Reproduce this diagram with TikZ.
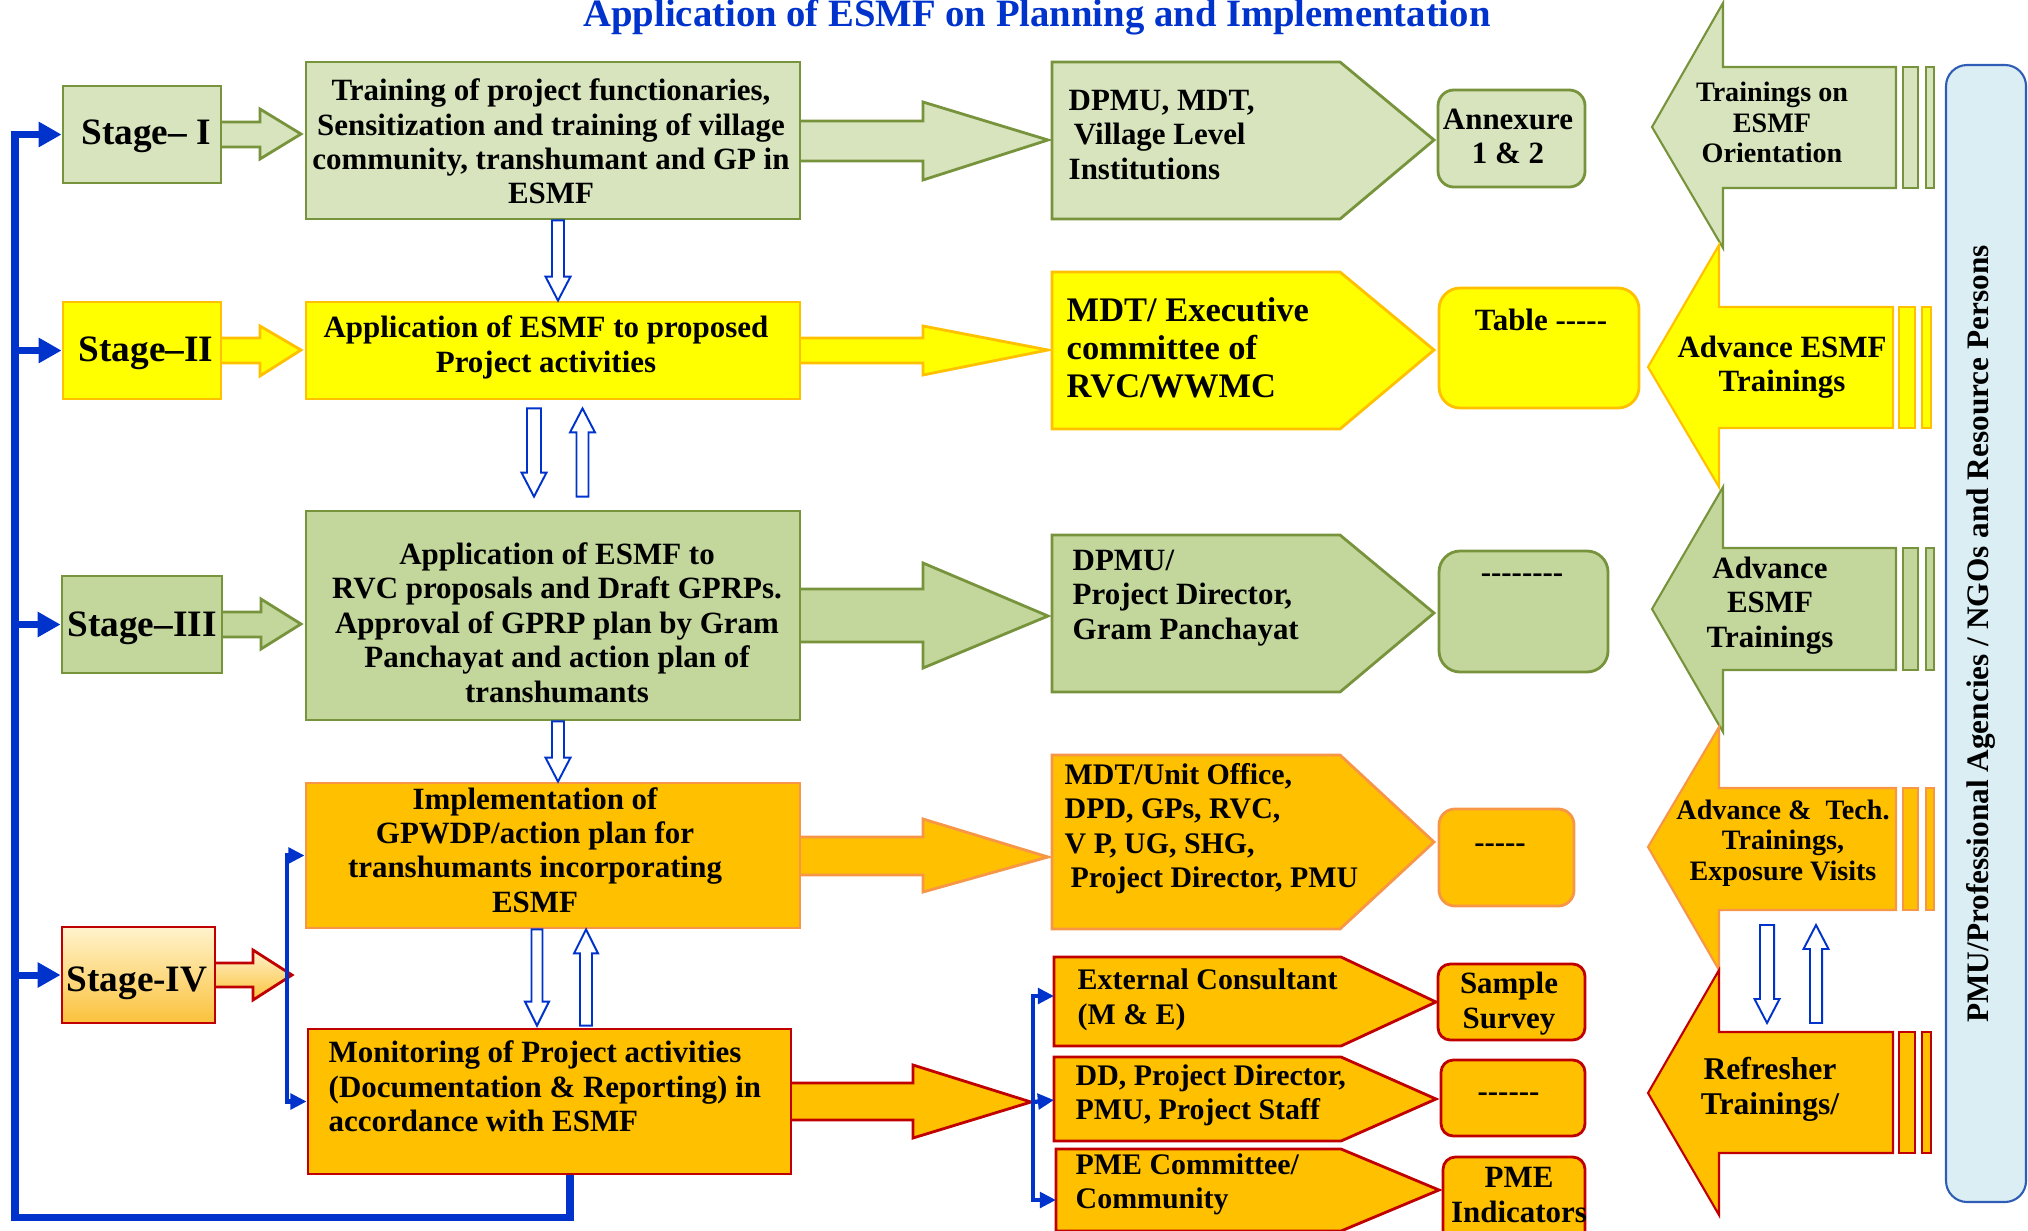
\documentclass[tikz,border=0pt]{standalone}
\usepackage{fontspec}
\setmainfont{Liberation Serif}
\usetikzlibrary{arrows.meta,calc,fit}

\definecolor{gLight}{HTML}{D7E4BD}
\definecolor{gMid}{HTML}{C3D69B}
\definecolor{gLine}{HTML}{77933C}
\definecolor{yFill}{HTML}{FFFF00}
\definecolor{yLine}{HTML}{FFC000}
\definecolor{oFill}{HTML}{FFC000}
\definecolor{oLine}{HTML}{F79646}
\definecolor{rLine}{HTML}{C00000}
\definecolor{flow}{HTML}{0033CC}
\definecolor{sideFill}{HTML}{DAEEF3}
\definecolor{sideLine}{HTML}{2F5DB5}
\definecolor{creamTop}{HTML}{FFF3CC}
\definecolor{goldBot}{HTML}{FBC23C}

% a run of separate hyphens (no dash ligatures)
\newcommand\hy[1]{\foreach \i in {1,...,#1}{-\kern0pt}}

% hollow vertical block arrow between two points: #1 from, #2 to, #3 half shaft, #4 half head (px)
\newcommand\hollowv[4]{%
  \draw[hollow] let \p1=#1, \p2=#2,
     \n1={ifthenelse(\y2>\y1,1,-1)},
     \n2={#3*0.2845pt}, \n3={#4*0.2845pt}, \n4={24*0.2845pt*\n1} in
   ({\x1-\n2},\y1) -- ({\x1-\n2},{\y2-\n4}) -- ({\x1-\n3},{\y2-\n4}) --
   (\x1,\y2) -- ({\x1+\n3},{\y2-\n4}) -- ({\x1+\n2},{\y2-\n4}) --
   ({\x1+\n2},\y1) -- cycle;}

\begin{document}
\begin{tikzpicture}[x=0.01cm, y=-0.01cm, line join=miter,
  boxline/.style={line width=0.8pt},
  hollow/.style={draw=flow, fill=white, line width=0.55pt},
  fb/.style={draw=flow, line width=2pt},
  fbarrow/.style={fb, -{Triangle[length=6.5pt,width=6.8pt]}},
  brk/.style={draw=flow, line width=1.2pt},
  brkarrow/.style={brk, -{Triangle[length=4.6pt,width=4.4pt]}},
  frame/.style={inner sep=0pt, boxline},
  stagetxt/.style={inner sep=0pt, font=\fontsize{10.6}{12}\selectfont\bfseries},
  txt/.style={inner sep=0pt, font=\fontsize{8.8}{9.8}\selectfont\bfseries, align=center},
  ltxt/.style={inner sep=0pt, font=\fontsize{8.8}{9.8}\selectfont\bfseries, align=left, anchor=west},
  smalltxt/.style={inner sep=0pt, font=\fontsize{8}{8.6}\selectfont\bfseries, align=center},
]
\useasboundingbox (0,0) rectangle (2028,1230);
\clip (0,0) rectangle (2028,1230);

% ---------- title ----------
\node[anchor=base, text=flow, font=\fontsize{11}{13}\selectfont\bfseries] (title) at (1037,27)
  {Application of ESMF on Planning and Implementation};

% ---------- stage arrows into the activity boxes ----------
\filldraw[fill=gLight, draw=gLine, boxline] (221,122) -- (260,122) -- (260,109) -- (301,134) -- (260,159) -- (260,147) -- (221,147);
\filldraw[fill=yFill, draw=yLine, boxline] (221,338) -- (260,338) -- (260,326) -- (301,350) -- (260,376) -- (260,363) -- (221,363);
\filldraw[fill=gMid, draw=gLine, boxline] (222,612) -- (261,612) -- (261,599) -- (301,624) -- (261,649) -- (261,637) -- (222,637);
\filldraw[top color=creamTop, bottom color=goldBot, draw=rLine, boxline] (215,963) -- (253,963) -- (253,950) -- (292,975) -- (253,1000) -- (253,987) -- (215,987);

% ---------- activity arrows into the agency shapes ----------
\filldraw[fill=gLight, draw=gLine, boxline] (800,121) -- (923,121) -- (923,102) -- (1048,140) -- (923,180) -- (923,161) -- (800,161);
\filldraw[fill=yFill, draw=yLine, boxline] (800,338) -- (923,338) -- (923,326) -- (1048,350) -- (923,375) -- (923,363) -- (800,363);
\filldraw[fill=gMid, draw=gLine, boxline] (800,589) -- (923,589) -- (923,563) -- (1048,616) -- (923,668) -- (923,642) -- (800,642);
\filldraw[fill=oFill, draw=oLine, boxline] (800,837) -- (923,837) -- (923,819) -- (1048,857) -- (923,892) -- (923,875) -- (800,875);
\filldraw[fill=oFill, draw=rLine, boxline] (791,1083) -- (913,1083) -- (913,1065) -- (1031,1102) -- (913,1138) -- (913,1120) -- (791,1120);

% ---------- stage boxes ----------
\node[frame, fit={(63,86)(221,183)}, fill=gLight, draw=gLine] (s1) {};
\node[frame, fit={(63,302)(221,399)}, fill=yFill, draw=yLine] (s2) {};
\node[frame, fit={(62,576)(222,673)}, fill=gMid, draw=gLine] (s3) {};
\node[frame, fit={(62,927)(215,1023)}, top color=creamTop, bottom color=goldBot, draw=rLine] (s4) {};
\node[stagetxt] (s1t) at (146,136) {Stage– I};
\node[stagetxt] (s2t) at (146,353) {Stage–II};
\node[stagetxt] (s3t) at (142,628) {Stage–III};
\node[stagetxt] (s4t) at (137,983) {Stage-IV};

% ---------- activity boxes ----------
\node[frame, fit={(306,62)(800,219)}, fill=gLight, draw=gLine] (b1) {};
\node[frame, fit={(306,302)(800,399)}, fill=yFill, draw=yLine] (b2) {};
\node[frame, fit={(306,511)(800,720)}, fill=gMid, draw=gLine] (b3) {};
\node[frame, fit={(306,783)(800,928)}, fill=oFill, draw=oLine] (b4) {};
\node[frame, fit={(308,1029)(791,1174)}, fill=oFill, draw=rLine] (b5) {};

\node[txt] (b1t) at (551,141.5) {Training of project functionaries,\\Sensitization and training of village\\community, transhumant and GP in\\ESMF};
\node[txt] (b2t) at (546,347.5) {Application of ESMF to proposed\\Project activities};
\node[txt] (b3t) at (557,622.5) {Application of ESMF to\\RVC proposals and Draft GPRPs.\\Approval of GPRP plan by Gram\\Panchayat and action plan of\\transhumants};
\node[txt] (b4t) at (535,850) {Implementation of\\GPWDP/action plan for\\transhumants incorporating\\ESMF};
\node[ltxt] (b5t) at (328,1086.5) {Monitoring of Project activities\\(Documentation \& Reporting) in\\accordance with ESMF};

% ---------- agency shapes ----------
\filldraw[fill=gLight, draw=gLine, boxline] (1052,62) -- (1340,62) -- (1434,140) -- (1340,219) -- (1052,219) -- cycle;
\filldraw[fill=yFill, draw=yLine, boxline] (1052,272) -- (1340,272) -- (1434,350) -- (1340,429) -- (1052,429) -- cycle;
\filldraw[fill=gMid, draw=gLine, boxline] (1052,535) -- (1340,535) -- (1434,613) -- (1340,692) -- (1052,692) -- cycle;
\filldraw[fill=oFill, draw=oLine, boxline] (1052,755) -- (1340,755) -- (1434,842) -- (1340,929) -- (1052,929) -- cycle;
\filldraw[fill=oFill, draw=rLine, boxline] (1054,957) -- (1341,957) -- (1436,1002) -- (1341,1046) -- (1054,1046) -- cycle;
\filldraw[fill=oFill, draw=rLine, boxline] (1054,1057) -- (1341,1057) -- (1436,1099) -- (1341,1141) -- (1054,1141) -- cycle;
\filldraw[fill=oFill, draw=rLine, boxline] (1056,1149) -- (1341,1149) -- (1439,1190) -- (1341,1231) -- (1056,1231) -- cycle;

\node[ltxt] (a1) at (1068,135) {DPMU, MDT,\\\hspace*{1.5pt}Village Level\\Institutions};
\node[ltxt, font=\fontsize{9.8}{10.8}\selectfont\bfseries] (a2) at (1066,347.5) {MDT/ Executive\\committee of\\RVC/WWMC};
\node[ltxt] (a3) at (1072,598) {DPMU/\\Project Director,\\Gram Panchayat};
\node[ltxt, font=\fontsize{8.5}{9.8}\selectfont\bfseries] (a4) at (1064,828.5) {MDT/Unit Office,\\DPD, GPs, RVC,\\V P, UG, SHG,\\\hspace*{1.7pt}Project Director, PMU};
\node[ltxt, font=\fontsize{8.5}{9.8}\selectfont\bfseries] (a5) at (1077,1000) {External Consultant\\(M \& E)};
\node[ltxt, font=\fontsize{8.5}{9.8}\selectfont\bfseries] (a6) at (1075,1095.5) {DD, Project Director,\\PMU, Project Staff};
\node[ltxt, font=\fontsize{8.5}{9.8}\selectfont\bfseries] (a7) at (1075,1184.5) {PME Committee/\\Community};

% ---------- reference boxes ----------
\node[frame, fit={(1438,90)(1585,187)}, rounded corners=4.5pt, fill=gLight, draw=gLine] (r1) {};
\node[frame, fit={(1439,288)(1639,408)}, rounded corners=6pt, fill=yFill, draw=yLine] (r2) {};
\node[frame, fit={(1439,551)(1608,672)}, rounded corners=6pt, fill=gMid, draw=gLine] (r3) {};
\node[frame, fit={(1439,809)(1574,906)}, rounded corners=4.5pt, fill=oFill, draw=oLine] (r4) {};
\node[frame, fit={(1438,964)(1585,1040)}, rounded corners=3.5pt, fill=oFill, draw=rLine] (r5) {};
\node[frame, fit={(1441,1060)(1585,1136)}, rounded corners=3.5pt, fill=oFill, draw=rLine] (r6) {};
\node[frame, fit={(1443,1157)(1585,1245)}, rounded corners=3.5pt, fill=oFill, draw=rLine] (r7) {};

\node[txt] (r1t) at (1508,136.5) {Annexure\\1 \& 2};
\node[txt] (r2t) at (1541,320) {Table \hy{5}};
\node[txt] (r3t) at (1522,578) {\hy{8}};
\node[txt] (r4t) at (1500,848) {\hy{5}};
\node[txt] (r5t) at (1509,1003.5) {Sample\\Survey};
\node[txt] (r6t) at (1508.5,1097) {\hy{6}};
\node[txt] (r7t) at (1519,1195) {PME\\Indicators};

% ---------- training arrows ----------
\filldraw[fill=gLight, draw=gLine, line width=0.6pt] (1652,127) -- (1723,3) -- (1723,67) -- (1896,67) -- (1896,188) -- (1723,188) -- (1723,248) -- cycle;
\filldraw[fill=gLight, draw=gLine, line width=0.6pt] (1903,67) rectangle (1918,188) (1926,67) rectangle (1934,188);
\filldraw[fill=yFill, draw=yLine, line width=0.6pt] (1648,367) -- (1719,245) -- (1719,307) -- (1893,307) -- (1893,428) -- (1719,428) -- (1719,487) -- cycle;
\filldraw[fill=yFill, draw=yLine, line width=0.6pt] (1899,307) rectangle (1915,428) (1922,307) rectangle (1931,428);
\filldraw[fill=gMid, draw=gLine, line width=0.6pt] (1652,609) -- (1723,487) -- (1723,548) -- (1896,548) -- (1896,670) -- (1723,670) -- (1723,732) -- cycle;
\filldraw[fill=gMid, draw=gLine, line width=0.6pt] (1903,548) rectangle (1918,670) (1926,548) rectangle (1934,670);
\filldraw[fill=oFill, draw=oLine, line width=0.6pt] (1648,847) -- (1719,727) -- (1719,788) -- (1896,788) -- (1896,910) -- (1719,910) -- (1719,970) -- cycle;
\filldraw[fill=oFill, draw=oLine, line width=0.6pt] (1903,788) rectangle (1918,910) (1926,788) rectangle (1934,910);
\filldraw[fill=oFill, draw=rLine, line width=0.6pt] (1648,1093) -- (1719,970) -- (1719,1032) -- (1893,1032) -- (1893,1153) -- (1719,1153) -- (1719,1215) -- cycle;
\filldraw[fill=oFill, draw=rLine, line width=0.6pt] (1899,1032) rectangle (1915,1153) (1922,1032) rectangle (1931,1153);

\node[smalltxt] (t1) at (1772,122.5) {Trainings on\\ESMF\\Orientation};
\node[txt] (t2) at (1782,367) {Advance ESMF\\Trainings};
\node[txt] (t3) at (1770,605.5) {Advance\\ESMF\\Trainings};
\node[smalltxt] (t4) at (1783,843) {Advance \&\ \ Tech.\\Trainings,\\Exposure Visits};
\node[txt, font=\fontsize{9}{9.8}\selectfont\bfseries] (t5) at (1770,1089.5) {Refresher\\Trainings/};
\coordinate (t4b) at (1790,910);
\coordinate (t5a) at (1790,1032);

% ---------- side panel ----------
\node[frame, fit={(1946,65)(2026,1202)}, rounded corners=6pt, fill=sideFill, draw=sideLine, line width=0.6pt] (side) {};
\node[rotate=90, inner sep=0pt, font=\fontsize{8.9}{10}\selectfont\bfseries] (sidet) at (1981,634)
  {PMU/Professional Agencies / NGOs and Resource Persons};

% ---------- hollow flow arrows ----------
\hollowv{($(b1.south)+(5,0)$)}{($(b2.north)+(5,0)$)}{6}{12.5}
\hollowv{($(b2.south)+(-19,8)$)}{($(b3.north)+(-19,-13)$)}{7}{12.5}
\hollowv{($(b3.north)+(29.5,-13)$)}{($(b2.south)+(29.5,8)$)}{6}{12.5}
\hollowv{($(b3.south)+(5,0)$)}{($(b4.north)+(5,0)$)}{6}{12.5}
\hollowv{($(b4.south)+(-16,0)$)}{($(b5.north)+(-12.5,-2)$)}{5.5}{12}
\hollowv{($(b5.north)+(36.5,-2)$)}{($(b4.south)+(33,0)$)}{6}{12}
\hollowv{($(t4b)+(-23,15)$)}{($(t5a)+(-23,-9)$)}{7}{12.5}
\hollowv{($(t5a)+(26,-9)$)}{($(t4b)+(26,15)$)}{6}{12.5}

% ---------- feedback loop to all stages ----------
\coordinate (loopL) at (15,1217);
\draw[fbarrow] ($(b5.south)+(20.5,0)$) |- (loopL) |- (s1.west);
\draw[fbarrow] (loopL |- s2.west) -- (s2.west);
\draw[fbarrow] (loopL |- s3.west) -- (s3.west);
\draw[fbarrow] (loopL |- s4.west) -- (s4.west);

% ---------- stage IV split ----------
\coordinate (s4j) at (287,975);
\draw[brkarrow] (s4j) |- (b4.west);
\draw[brkarrow] (s4j) |- (b5.west);

% ---------- monitoring split ----------
\coordinate (b5j) at (1033,1102);
\coordinate (m1) at (1054,996);
\coordinate (m2) at (1054,1100);
\coordinate (m3) at (1056,1200);
\draw[brkarrow] (b5j) |- (m1);
\draw[brkarrow] (b5j) -- (m2);
\draw[brkarrow] (b5j) |- (m3);
\end{tikzpicture}
\end{document}
